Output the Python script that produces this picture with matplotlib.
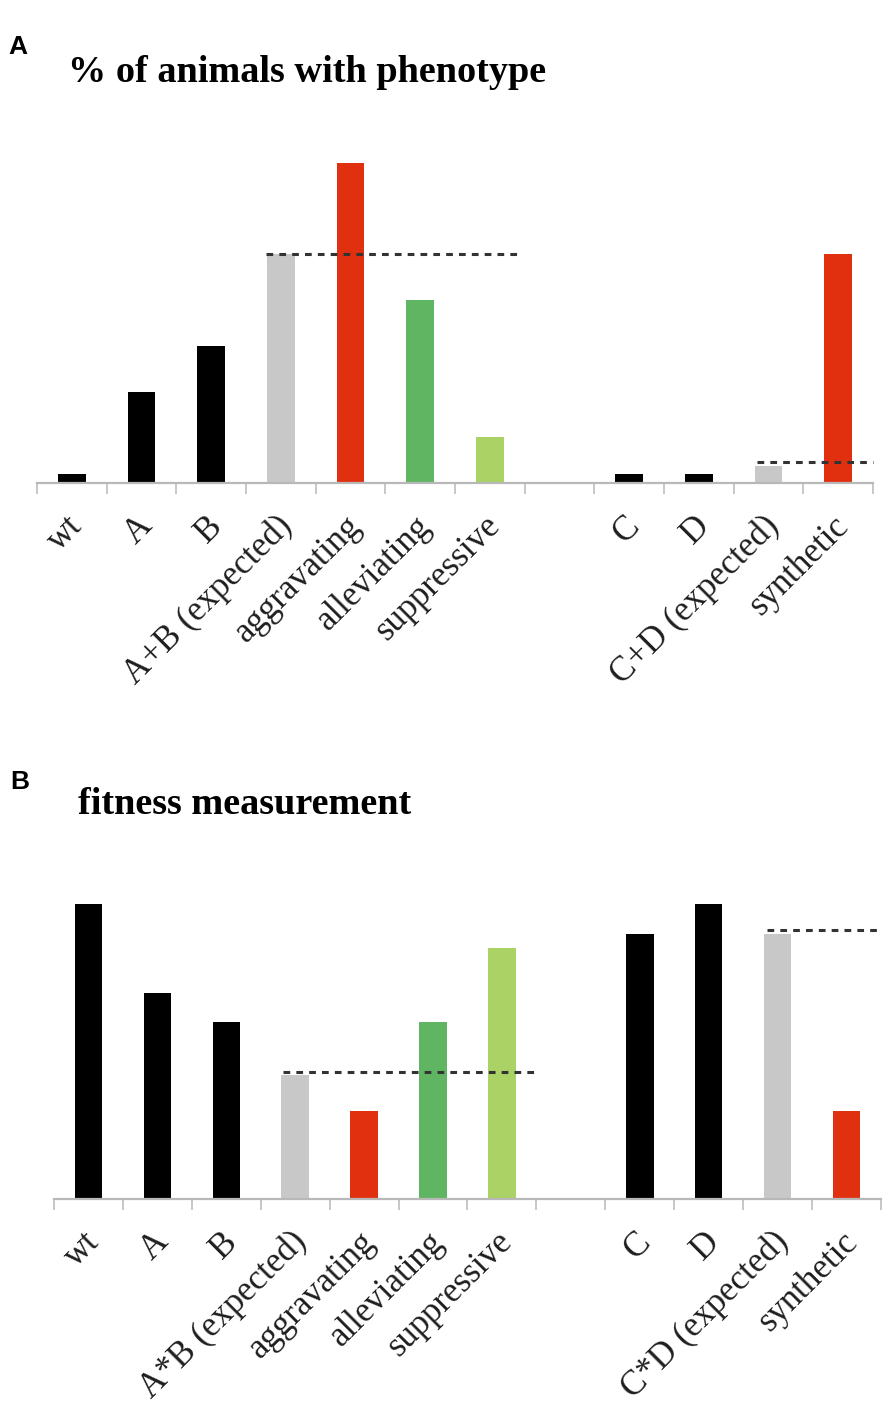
import matplotlib
matplotlib.use('Agg')
import matplotlib.pyplot as plt
import matplotlib.transforms as mtrans

# panel A: % of animals with phenotype
labels_a = ['wt', 'A', 'B', 'A+B (expected)', 'aggravating', 'alleviating', 'suppressive',
            '', 'C', 'D', 'C+D (expected)', 'synthetic']
values_a = [1, 10, 15, 25, 35, 20, 5, None, 1, 1, 1.9, 25]
expected_a = [(25, 2.79, 6.46), (2.3, 9.83, 11.5)]   # level, x start, x end

# panel B: fitness measurement
labels_b = ['wt', 'A', 'B', 'A*B (expected)', 'aggravating', 'alleviating', 'suppressive',
            '', 'C', 'D', 'C*D (expected)', 'synthetic']
values_b = [1.0, 0.70, 0.60, 0.42, 0.30, 0.60, 0.85, None, 0.90, 1.0, 0.90, 0.30]
expected_b = [(0.43, 2.83, 6.54), (0.912, 9.84, 11.52)]

BLACK = '#000000'
GREY = '#c8c8c8'
RED = '#e0300f'
GREEN = '#60b563'
LGREEN = '#aad264'
colors = [BLACK, BLACK, BLACK, GREY, RED, GREEN, LGREEN, 'none', BLACK, BLACK, GREY, RED]

W, H = 892, 1407
fig = plt.figure(figsize=(W / 100, H / 100), dpi=100)


def px_axes(left, right, bottom, top):
    return fig.add_axes([left / W, 1 - bottom / H, (right - left) / W, (bottom - top) / H])


def draw_panel(ax, labels, values, expected, ytop):
    xs = [i for i, v in enumerate(values) if v is not None]
    ax.bar(xs, [values[i] for i in xs], width=0.4, color=[colors[i] for i in xs], zorder=2)
    for level, x0, x1 in expected:
        ax.plot([x0, x1], [level, level], color='#333333', lw=2.2, ls=(0, (2.2, 2.0)), zorder=3,
                clip_on=False)
    ax.set_xlim(-0.5, len(labels) - 0.5)
    ax.set_ylim(0, ytop)
    for s in ['top', 'right', 'left']:
        ax.spines[s].set_visible(False)
    ax.spines['bottom'].set_color('#b8b8b8')
    ax.spines['bottom'].set_linewidth(1.6)
    ax.set_yticks([])
    ax.set_xticks([i - 0.5 for i in range(len(labels) + 1)])
    ax.set_xticklabels([])
    ax.tick_params(axis='x', which='major', length=8, width=1.1, color='#b8b8b8', direction='out')
    ax.set_xticks(range(len(labels)), minor=True)
    ax.set_xticklabels(labels, minor=True, rotation=45, ha='right', rotation_mode='anchor',
                       va='center', family='Liberation Serif', fontsize=25, color='#1e1e1e')
    ax.tick_params(axis='x', which='minor', length=0, pad=21)
    shift = mtrans.ScaledTranslation(0.06, -0.09, fig.dpi_scale_trans)
    for t in ax.get_xticklabels(minor=True):
        t.set_transform(t.get_transform() + shift)


ax_a = px_axes(37, 873, 483, 163)
draw_panel(ax_a, labels_a, values_a, expected_a, 35)

ax_b = px_axes(54, 881, 1199, 904)
draw_panel(ax_b, labels_b, values_b, expected_b, 1.0)

fig.text(8 / W, 1 - 53.5 / H, 'A', family='Liberation Sans', weight='bold', fontsize=19,
         ha='left', va='baseline')
fig.text(68 / W, 1 - 82.5 / H, '% of animals with phenotype', family='Liberation Serif',
         weight='bold', fontsize=27.5, ha='left', va='baseline')
fig.text(10 / W, 1 - 789 / H, 'B', family='Liberation Sans', weight='bold', fontsize=19,
         ha='left', va='baseline')
fig.text(78 / W, 1 - 814 / H, 'fitness measurement', family='Liberation Serif',
         weight='bold', fontsize=27.5, ha='left', va='baseline')

fig.savefig('out.png', dpi=100, facecolor='white')
